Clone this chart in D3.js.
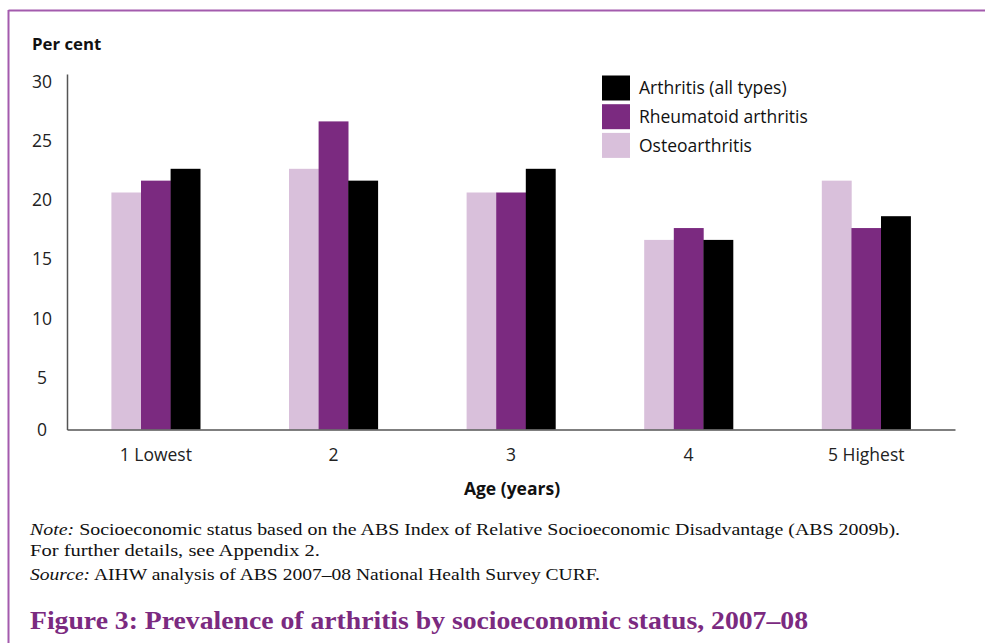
<!DOCTYPE html>
<html><head><meta charset="utf-8">
<script src="https://cdn.jsdelivr.net/npm/d3@7"></script>
<style>
html,body{margin:0;padding:0;background:#fff;}
svg{display:block;}
</style></head>
<body>
<svg id="chart" width="985" height="643"></svg>
<script>
const categories = ["1 Lowest", "2", "3", "4", "5 Highest"];
const seriesNames = ["Osteoarthritis", "Rheumatoid arthritis", "Arthritis (all types)"];
const osteoarthritis = [20, 22, 20, 16, 21];
const rheumatoid = [21, 26, 20, 17, 17];
const allTypes = [22, 21, 22, 16, 18];
const yTicks = [0, 5, 10, 15, 20, 25, 30];
const legendOrder = ["Arthritis (all types)", "Rheumatoid arthritis", "Osteoarthritis"];

const colors = {"Osteoarthritis": "#d9c0db", "Rheumatoid arthritis": "#7b2a80", "Arthritis (all types)": "#000000"};
const seriesValues = {"Osteoarthritis": osteoarthritis, "Rheumatoid arthritis": rheumatoid, "Arthritis (all types)": allTypes};

const svg = d3.select("#chart");
const sans = "'Open Sans', 'Noto Sans', sans-serif";
const serif = "'Liberation Serif', 'DejaVu Serif', serif";

// frame
svg.append("line").attr("x1", 8.5).attr("x2", 985).attr("y1", 10.5).attr("y2", 10.5)
  .attr("stroke", "#a35bad").attr("stroke-width", 2);
svg.append("line").attr("x1", 8.5).attr("x2", 8.5).attr("y1", 10).attr("y2", 643)
  .attr("stroke", "#a35bad").attr("stroke-width", 2);

const x0 = 67, x1 = 955, yBase = 429.5, yTop = 74;
const x = d3.scaleBand().domain(categories).range([x0, x1]).paddingInner(0.5).paddingOuter(0.25);
const xs = d3.scaleBand().domain(seriesNames).range([0, x.bandwidth()]);
const y = d3.scaleLinear().domain([0, 30]).range([yBase, yTop]);

// bars
const data = [];
categories.forEach((c, i) => seriesNames.forEach(s => data.push({c, s, v: seriesValues[s][i]})));
svg.append("g").selectAll("rect").data(data).join("rect")
  .attr("x", d => x(d.c) + xs(d.s))
  .attr("width", xs.bandwidth() + 0.3)
  .attr("y", d => y(d.v))
  .attr("height", d => y(0) - y(d.v))
  .attr("fill", d => colors[d.s]);

// y axis
const yAxis = d3.axisLeft(y).tickValues(yTicks).tickSize(0).tickPadding(0);
const gy = svg.append("g").attr("transform", `translate(${x0},0)`).call(yAxis);
gy.select(".domain").attr("stroke", "#555").attr("stroke-width", 1.5);
gy.selectAll("text").attr("x", 42 - x0).attr("text-anchor", "middle")
  .attr("font-family", sans).attr("font-size", 17.5).attr("fill", "#222")
  .attr("dy", "0.35em")
  .attr("transform", d => d === 0 ? null : "translate(0,7)");

// x axis
const xAxis = d3.axisBottom(x).tickSize(0).tickPadding(0);
const gx = svg.append("g").attr("transform", `translate(0,${yBase})`).call(xAxis);
gx.select(".domain").attr("stroke", "#555").attr("stroke-width", 1.5);
gx.selectAll("text").attr("y", 31.5).attr("dy", 0)
  .attr("font-family", sans).attr("font-size", 17.5).attr("fill", "#222");

// axis titles
svg.append("text").attr("x", 32).attr("y", 50).text("Per cent")
  .attr("font-family", sans).attr("font-weight", "bold").attr("font-size", 16.8).attr("fill", "#111");
svg.append("text").attr("x", 512).attr("y", 495).attr("text-anchor", "middle").text("Age (years)")
  .attr("font-family", sans).attr("font-weight", "bold").attr("font-size", 17.5).attr("fill", "#111");

// legend
const lg = svg.append("g").selectAll("g").data(legendOrder).join("g")
  .attr("transform", (d, i) => `translate(602,${75.5 + i * 28.7})`);
lg.append("rect").attr("width", 28).attr("height", 25).attr("fill", d => colors[d]);
lg.append("text").attr("x", 37).attr("y", 12.5).attr("dy", "0.35em").text(d => d)
  .attr("font-family", sans).attr("font-size", 17.5).attr("fill", "#111");

// notes
const note = svg.append("g").attr("font-family", serif).attr("font-size", 17).attr("fill", "#111");
const t1 = note.append("text").attr("x", 30).attr("y", 535)
  .attr("textLength", 870).attr("lengthAdjust", "spacingAndGlyphs");
t1.append("tspan").attr("font-style", "italic").text("Note:");
t1.append("tspan").text(" Socioeconomic status based on the ABS Index of Relative Socioeconomic Disadvantage (ABS 2009b).");
note.append("text").attr("x", 30).attr("y", 556).text("For further details, see Appendix 2.")
  .attr("textLength", 290).attr("lengthAdjust", "spacingAndGlyphs");
const t3 = note.append("text").attr("x", 30).attr("y", 580)
  .attr("textLength", 570).attr("lengthAdjust", "spacingAndGlyphs");
t3.append("tspan").attr("font-style", "italic").text("Source:");
t3.append("tspan").text(" AIHW analysis of ABS 2007–08 National Health Survey CURF.");

svg.append("text").attr("x", 30).attr("y", 629)
  .text("Figure 3: Prevalence of arthritis by socioeconomic status, 2007–08")
  .attr("textLength", 778).attr("lengthAdjust", "spacingAndGlyphs")
  .attr("font-family", serif).attr("font-weight", "bold").attr("font-size", 26).attr("fill", "#7b2a80");
</script>
</body></html>
